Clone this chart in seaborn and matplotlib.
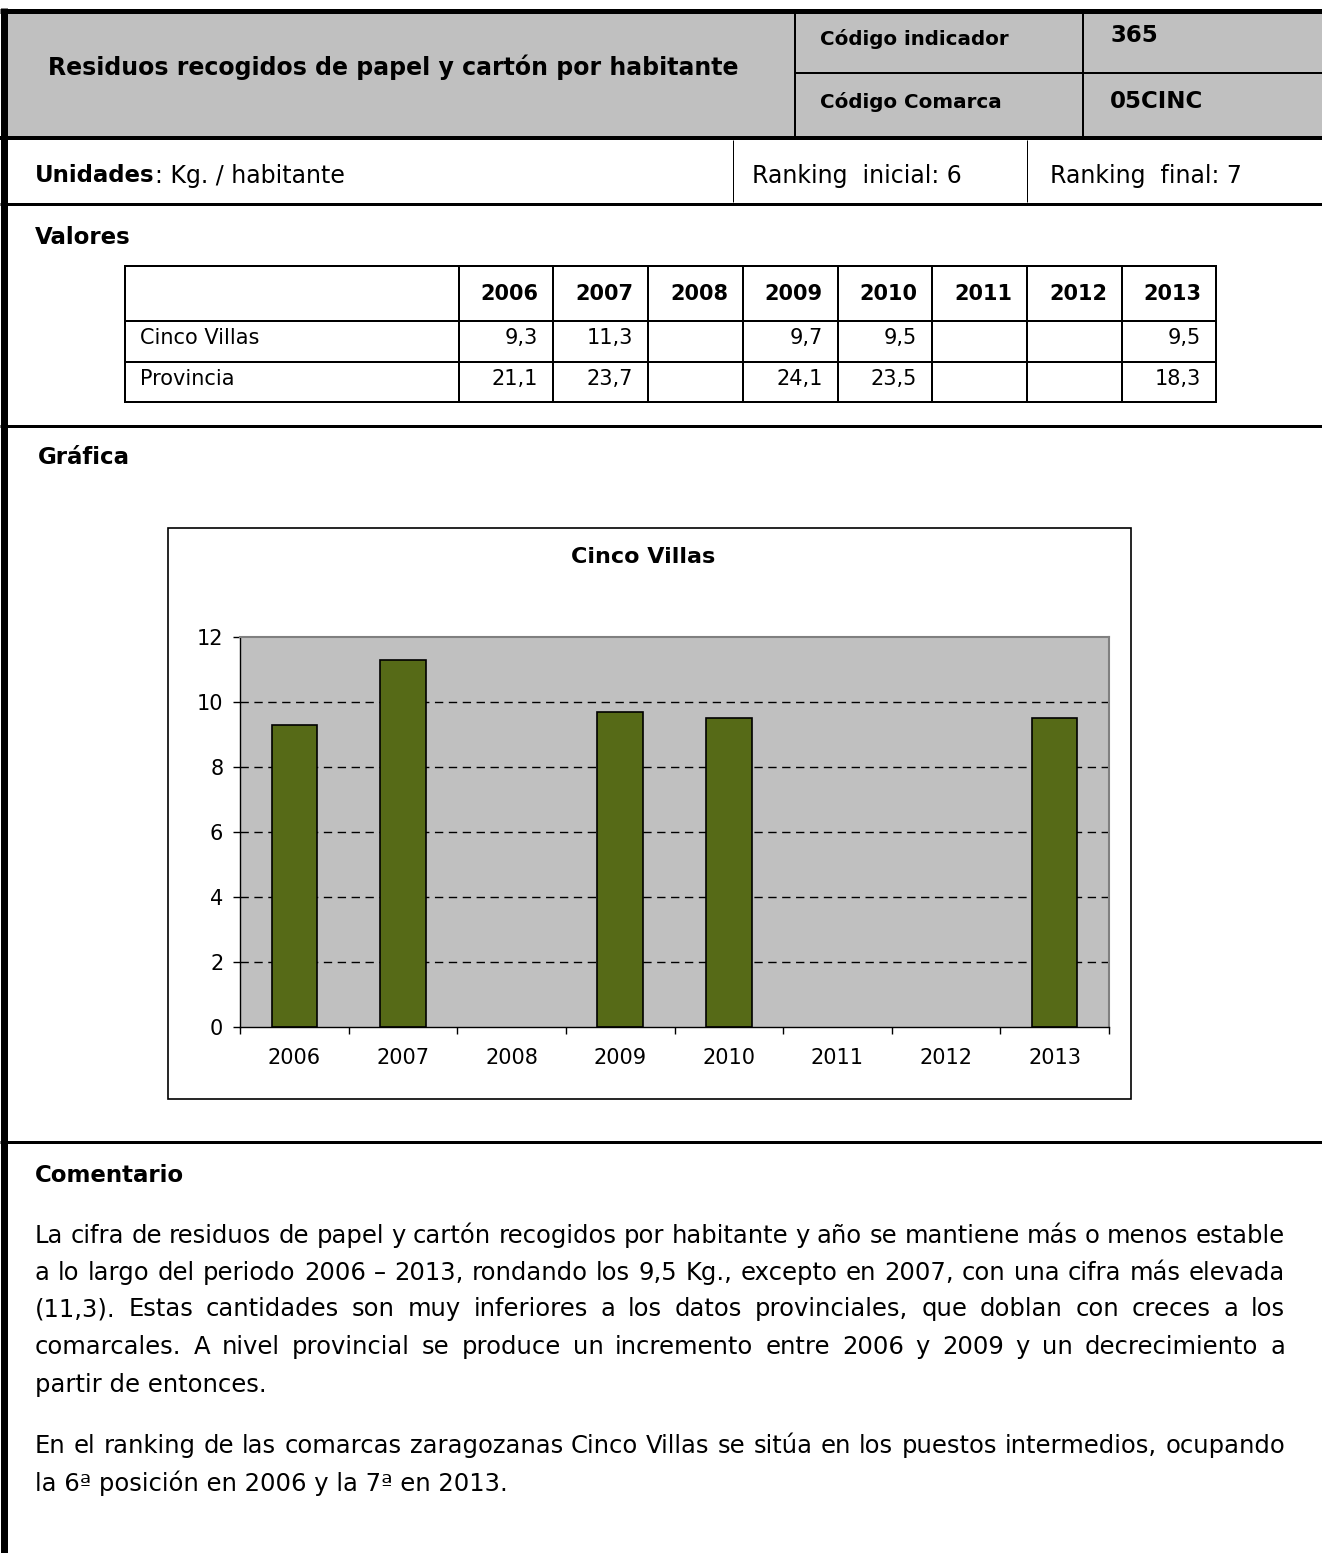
import numpy as np
import pandas as pd
import matplotlib
matplotlib.use("Agg")
import matplotlib.pyplot as plt
from matplotlib.patches import Rectangle
import seaborn as sns

# data
years = ["2006", "2007", "2008", "2009", "2010", "2011", "2012", "2013"]
cinco_villas = [9.3, 11.3, None, 9.7, 9.5, None, None, 9.5]
provincia = [21.1, 23.7, None, 24.1, 23.5, None, None, 18.3]
row_names = ["Cinco Villas", "Provincia"]
y_ticks = [0, 2, 4, 6, 8, 10, 12]

title = "Residuos recogidos de papel y cartón por habitante"
codigo_indicador = "365"
codigo_comarca = "05CINC"
ranking_inicial = 6
ranking_final = 7

comment_lines = [
    "La cifra de residuos de papel y cartón recogidos por habitante y año se mantiene más o menos estable",
    "a lo largo del periodo 2006 – 2013, rondando los 9,5 Kg., excepto en 2007, con una cifra más elevada",
    "(11,3). Estas cantidades son muy inferiores a los datos provinciales, que doblan con creces a los",
    "comarcales. A nivel provincial se produce un incremento entre 2006 y 2009 y un decrecimiento a",
    "partir de entonces.",
    "En el ranking de las comarcas zaragozanas Cinco Villas se sitúa en los puestos intermedios, ocupando",
    "la 6ª posición en 2006 y la 7ª en 2013.",
]
justified = [True, True, True, True, False, True, False]

sns.set_style("ticks")
plt.rcParams["font.family"] = ["DejaVu Sans"]
for key in ["text.color", "axes.labelcolor", "xtick.color", "ytick.color"]:
    plt.rcParams[key] = "black"

W, H = 1322, 1553
fig = plt.figure(figsize=(W / 100, H / 100), dpi=100)
page = fig.add_axes([0, 0, 1, 1])
page.set_xlim(0, W)
page.set_ylim(H, 0)
page.axis("off")

GRAY = "#C0C0C0"
px = 0.72  # line width points per pixel


def hline(y, x0, x1, w):
    page.plot([x0, x1], [y, y], color="black", lw=w * px, solid_capstyle="butt")


def vline(x, y0, y1, w):
    page.plot([x, x], [y0, y1], color="black", lw=w * px, solid_capstyle="butt")


# header band
page.add_patch(Rectangle((8, 12), W - 8, 125, facecolor=GRAY, edgecolor="none"))
hline(10.5, 0, W, 5)
hline(138, 0, W, 4)
vline(795, 12, 137, 2)
vline(1083, 12, 137, 2)
hline(72.5, 795, W, 2)
vline(4, 8, H, 7)

page.text(48, 67, title, fontsize=17, fontweight="bold", va="center")
page.text(820, 39, "Código indicador", fontsize=14.3, fontweight="bold", va="center")
page.text(820, 102, "Código Comarca", fontsize=14.3, fontweight="bold", va="center")
page.text(1110, 36, codigo_indicador, fontsize=16.5, fontweight="bold", va="center")
page.text(1110, 101, codigo_comarca, fontsize=16.5, fontweight="bold", va="center")

# units / ranking row
vline(733, 140, 202, 1)
vline(1027, 140, 202, 1)
hline(203.5, 0, W, 3)
t_unid = page.text(35, 176, "Unidades", fontsize=16.5, fontweight="bold", va="center")
page.annotate(": Kg. / habitante", xy=(1, 0.5), xycoords=t_unid, fontsize=17,
              va="center", ha="left")
page.text(752, 176, f"Ranking  inicial: {ranking_inicial}", fontsize=17, va="center")
page.text(1050, 176, f"Ranking  final: {ranking_final}", fontsize=17, va="center")

# values table
page.text(35, 238, "Valores", fontsize=16.5, fontweight="bold", va="center")
col_x = [125, 459, 553, 648, 743, 838, 932, 1027, 1122, 1216]
row_y = [266, 321, 362, 402]
for x in col_x:
    vline(x, row_y[0], row_y[-1], 2)
for y in row_y:
    hline(y, col_x[0] - 1, col_x[-1] + 1, 2)


def fmt(v):
    return "" if v is None else f"{v:.1f}".replace(".", ",")


for i, yr in enumerate(years):
    page.text(col_x[i + 2] - 15, (row_y[0] + row_y[1]) / 2 + 1, yr, fontsize=15,
              fontweight="bold", ha="right", va="center")
for r, (name, vals) in enumerate(zip(row_names, [cinco_villas, provincia])):
    yc = (row_y[r + 1] + row_y[r + 2]) / 2 - 3
    page.text(140, yc, name, fontsize=15, va="center")
    for i, v in enumerate(vals):
        page.text(col_x[i + 2] - 15, yc, fmt(v), fontsize=15, ha="right", va="center")

hline(425.5, 0, W, 3)

# chart
page.text(38, 458, "Gráfica", fontsize=16.5, fontweight="bold", va="center")
page.add_patch(Rectangle((168, 528), 963, 571, facecolor="white", edgecolor="black", lw=1.2))
page.text(643, 557, "Cinco Villas", fontsize=16, fontweight="bold", ha="center", va="center")

ax_l, ax_r, ax_t, ax_b = 240, 1109, 637, 1027
cax = fig.add_axes([ax_l / W, 1 - ax_b / H, (ax_r - ax_l) / W, (ax_b - ax_t) / H])
df = pd.DataFrame({"year": years, "value": cinco_villas}).dropna()
sns.barplot(data=df, x="year", y="value", order=years, color="#566A17", saturation=1,
            width=0.42, edgecolor="black", linewidth=1.2, ax=cax, zorder=2)
cax.set_facecolor(GRAY)
cax.set_ylim(0, 12)
cax.set_yticks(y_ticks)
cax.set_xlim(-0.5, len(years) - 0.5)
for v in y_ticks[1:-1]:
    cax.axhline(v, color="black", lw=1, ls=(0, (6, 4)), zorder=1)
cax.set_xticks(np.arange(-0.5, len(years), 1), minor=True)
cax.tick_params(axis="x", which="major", length=0, pad=15, labelsize=15)
cax.tick_params(axis="x", which="minor", length=5, width=1, color="black")
cax.tick_params(axis="y", length=5, width=1, color="black", pad=7, labelsize=15)
cax.set_xlabel("")
cax.set_ylabel("")
for side in ["top", "right"]:
    cax.spines[side].set_color("#808080")
    cax.spines[side].set_linewidth(1.5)
for side in ["left", "bottom"]:
    cax.spines[side].set_color("black")
    cax.spines[side].set_linewidth(1)

hline(1141.5, 0, W, 3)

# comment
page.text(35, 1175, "Comentario", fontsize=16.5, fontweight="bold", va="center")
renderer = fig.canvas.get_renderer()
baselines = [1243, 1280, 1316, 1354, 1392, 1453, 1491]
x0, x1 = 35, 1285
for line, yb, just in zip(comment_lines, baselines, justified):
    if not just:
        page.text(x0, yb, line, fontsize=17.5, va="baseline")
        continue
    words = line.split(" ")
    arts = [page.text(0, yb, w, fontsize=17.5, va="baseline") for w in words]
    widths = [a.get_window_extent(renderer).width for a in arts]
    gap = (x1 - x0 - sum(widths)) / (len(words) - 1)
    x = x0
    for a, w in zip(arts, widths):
        a.set_x(x)
        x += w + gap

fig.savefig("out.png", dpi=100)
